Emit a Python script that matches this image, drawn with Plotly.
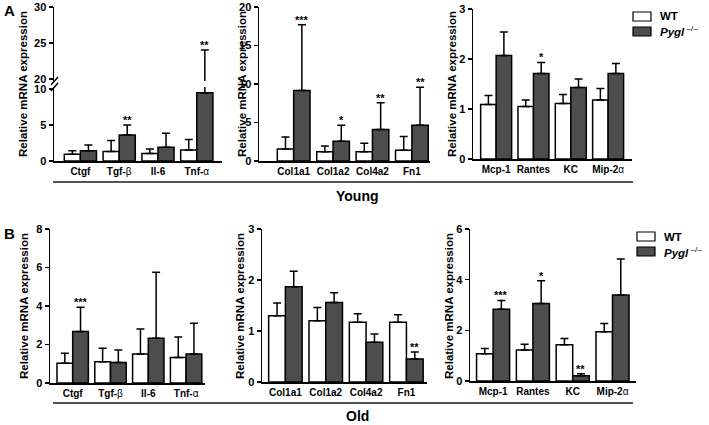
import plotly.graph_objects as go

# ---------------- data ----------------
growth_cats = ["Ctgf", "Tgf-β", "Il-6", "Tnf-α"]
growth_ticks = ["<b>Ctgf</b>", "<b>Tgf-</b>β", "<b>Il-6</b>", "<b>Tnf-</b>α"]
matrix_cats = ["Col1a1", "Col1a2", "Col4a2", "Fn1"]
matrix_ticks = ["<b>Col1a1</b>", "<b>Col1a2</b>", "<b>Col4a2</b>", "<b>Fn1</b>"]
chemo_cats = ["Mcp-1", "Rantes", "KC", "Mip-2α"]
chemo_ticks = ["<b>Mcp-1</b>", "<b>Rantes</b>", "<b>KC</b>", "<b>Mip-2</b>α"]

# Young (A)
young_growth_wt = [0.95, 1.33, 1.05, 1.52]
young_growth_wt_err = [0.48, 1.53, 0.62, 1.48]
young_growth_ko = [1.43, 3.62, 1.90, 9.50]
young_growth_ko_err = [0.81, 1.38, 1.96, 14.5]
young_growth_sig = ["", "**", "", "**"]

young_matrix_wt = [1.56, 1.21, 1.21, 1.39]
young_matrix_wt_err = [1.56, 0.74, 1.09, 1.78]
young_matrix_ko = [9.15, 2.56, 4.08, 4.64]
young_matrix_ko_err = [8.55, 2.08, 3.47, 4.95]
young_matrix_sig = ["***", "*", "**", "**"]

young_chemo_wt = [1.09, 1.05, 1.11, 1.18]
young_chemo_wt_err = [0.18, 0.13, 0.18, 0.23]
young_chemo_ko = [2.07, 1.71, 1.43, 1.71]
young_chemo_ko_err = [0.47, 0.22, 0.17, 0.20]
young_chemo_sig = ["", "*", "", ""]

# Old (B)
old_growth_wt = [1.02, 1.10, 1.51, 1.33]
old_growth_wt_err = [0.52, 0.71, 1.30, 1.06]
old_growth_ko = [2.68, 1.07, 2.32, 1.51]
old_growth_ko_err = [1.25, 0.65, 3.43, 1.59]
old_growth_sig = ["***", "", "", ""]

old_matrix_wt = [1.30, 1.20, 1.17, 1.17]
old_matrix_wt_err = [0.25, 0.26, 0.17, 0.15]
old_matrix_ko = [1.87, 1.56, 0.78, 0.45]
old_matrix_ko_err = [0.30, 0.19, 0.16, 0.14]
old_matrix_sig = ["", "", "", "**"]

old_chemo_wt = [1.08, 1.22, 1.43, 1.94]
old_chemo_wt_err = [0.20, 0.23, 0.25, 0.33]
old_chemo_ko = [2.83, 3.06, 0.21, 3.39]
old_chemo_ko_err = [0.35, 0.90, 0.08, 1.43]
old_chemo_sig = ["***", "*", "**", ""]

# ---------------- layout helpers ----------------
W, H = 709, 425
FONT = "Liberation Sans, Arial, sans-serif"
KO_COLOR = "#4d4d4d"
BARGAP = 0.17


def px(x):
    return x / W


def py(y):
    return 1 - y / H


fig = go.Figure()
annotations = []
shapes = []


def add_bars(xa, ya, cats, wt, wte, ko, koe):
    common = dict(xaxis=xa, yaxis=ya, showlegend=False, hoverinfo="skip",
                  marker_line=dict(color="black", width=1.5))
    eb = dict(type="data", symmetric=False, color="black", thickness=1.5, width=4)
    fig.add_trace(go.Bar(x=cats, y=wt, marker_color="white",
                         error_y=dict(array=wte, arrayminus=[0] * len(wt), **eb), **common))
    fig.add_trace(go.Bar(x=cats, y=ko, marker_color=KO_COLOR,
                         error_y=dict(array=koe, arrayminus=[0] * len(ko), **eb), **common))


def add_stars(xa, ya, ko, koe, sig):
    off = (1 - BARGAP) / 4
    for i, s in enumerate(sig):
        if s:
            annotations.append(dict(x=i + off, y=ko[i] + koe[i], xref=xa, yref=ya,
                                    text="<b>" + s + "</b>", showarrow=False,
                                    yanchor="bottom", yshift=-3,
                                    font=dict(family=FONT, size=11, color="black")))


def xaxis_cfg(dom, rng, cats, ticks, anchor):
    return dict(domain=[px(dom[0]), px(dom[1])], range=rng, anchor=anchor,
                type="category", categoryorder="array", categoryarray=cats,
                tickmode="array", tickvals=cats, ticktext=ticks, automargin=False,
                showline=True, linecolor="black", linewidth=1.5, ticks="",
                showgrid=False, zeroline=False,
                tickfont=dict(family=FONT, size=10, color="black"))


def yaxis_cfg(top, bot, rng, tickvals, anchor):
    return dict(domain=[py(bot), py(top)], range=rng, anchor=anchor, automargin=False,
                tickmode="array", tickvals=tickvals,
                ticktext=["<b>%g</b>" % v for v in tickvals],
                showline=True, linecolor="black", linewidth=1.5,
                ticks="outside", ticklen=4, tickwidth=1.5, tickcolor="black",
                showgrid=False, zeroline=False,
                tickfont=dict(family=FONT, size=11, color="black"))


def ytitle(xc, top, bot):
    annotations.append(dict(x=px(xc), y=py((top + bot) / 2), xref="paper", yref="paper",
                            text="<b>Relative mRNA expression</b>", textangle=-90,
                            showarrow=False, xanchor="center", yanchor="middle",
                            font=dict(family=FONT, size=11.5, color="black")))


# ---------------- panels ----------------
# A1 with broken axis
add_bars("x", "y", growth_cats, young_growth_wt, young_growth_wt_err,
         young_growth_ko, young_growth_ko_err)
add_bars("x", "y7", growth_cats, young_growth_wt, young_growth_wt_err,
         young_growth_ko, young_growth_ko_err)
sig_low = [s if young_growth_ko[i] + young_growth_ko_err[i] < 10 else "" for i, s in enumerate(young_growth_sig)]
sig_up = [s if young_growth_ko[i] + young_growth_ko_err[i] >= 10 else "" for i, s in enumerate(young_growth_sig)]
add_stars("x", "y", young_growth_ko, young_growth_ko_err, sig_low)
add_stars("x", "y7", young_growth_ko, young_growth_ko_err, sig_up)

add_bars("x2", "y2", matrix_cats, young_matrix_wt, young_matrix_wt_err,
         young_matrix_ko, young_matrix_ko_err)
add_stars("x2", "y2", young_matrix_ko, young_matrix_ko_err, young_matrix_sig)
add_bars("x3", "y3", chemo_cats, young_chemo_wt, young_chemo_wt_err,
         young_chemo_ko, young_chemo_ko_err)
add_stars("x3", "y3", young_chemo_ko, young_chemo_ko_err, young_chemo_sig)

add_bars("x4", "y4", growth_cats, old_growth_wt, old_growth_wt_err,
         old_growth_ko, old_growth_ko_err)
add_stars("x4", "y4", old_growth_ko, old_growth_ko_err, old_growth_sig)
add_bars("x5", "y5", matrix_cats, old_matrix_wt, old_matrix_wt_err,
         old_matrix_ko, old_matrix_ko_err)
add_stars("x5", "y5", old_matrix_ko, old_matrix_ko_err, old_matrix_sig)
add_bars("x6", "y6", chemo_cats, old_chemo_wt, old_chemo_wt_err,
         old_chemo_ko, old_chemo_ko_err)
add_stars("x6", "y6", old_chemo_ko, old_chemo_ko_err, old_chemo_sig)

layout = dict(
    template="none",
    width=W, height=H, margin=dict(l=0, r=0, t=0, b=0, pad=0),
    paper_bgcolor="white", plot_bgcolor="white",
    barmode="group", bargap=BARGAP, bargroupgap=0, showlegend=False,
    font=dict(family=FONT, color="black"),
    xaxis=xaxis_cfg((54, 222), [-0.68, 3.65], growth_cats, growth_ticks, "y"),
    yaxis=yaxis_cfg(87, 161, [0, 10.3], [0, 5, 10], "x"),
    yaxis7=yaxis_cfg(7, 81, [19.7, 30], [20, 25, 30], "x"),
    xaxis2=xaxis_cfg((259, 430), [-0.88, 3.46], matrix_cats, matrix_ticks, "y2"),
    yaxis2=yaxis_cfg(7, 161, [0, 20], [0, 5, 10, 15, 20], "x2"),
    xaxis3=xaxis_cfg((473, 632), [-0.62, 3.64], chemo_cats, chemo_ticks, "y3"),
    yaxis3=yaxis_cfg(9, 159, [0, 3], [0, 1, 2, 3], "x3"),
    xaxis4=xaxis_cfg((50, 205), [-0.6, 3.5], growth_cats, growth_ticks, "y4"),
    yaxis4=yaxis_cfg(229, 383, [0, 8], [0, 2, 4, 6, 8], "x4"),
    xaxis5=xaxis_cfg((262, 427), [-0.58, 3.51], matrix_cats, matrix_ticks, "y5"),
    yaxis5=yaxis_cfg(229, 382, [0, 3], [0, 1, 2, 3], "x5"),
    xaxis6=xaxis_cfg((470, 636), [-0.58, 3.59], chemo_cats, chemo_ticks, "y6"),
    yaxis6=yaxis_cfg(229, 381, [0, 6], [0, 2, 4, 6], "x6"),
)

# y-axis titles
ytitle(23, 7, 161)
ytitle(242, 7, 161)
ytitle(452, 7, 161)
ytitle(24, 229, 383)
ytitle(240, 229, 383)
ytitle(449, 229, 383)

# axis break marks on A1
for yref, yanchor in (("y domain", 1), ("y7 domain", 0)):
    shapes.append(dict(type="line", xref="x domain", yref=yref,
                       xsizemode="pixel", xanchor=0, x0=-3, x1=4,
                       ysizemode="pixel", yanchor=yanchor, y0=-4, y1=4,
                       line=dict(color="black", width=1.5)))

# group lines & labels
for yline, ylab, lab in ((182, 196, "Young"), (403, 416, "Old")):
    shapes.append(dict(type="line", xref="paper", yref="paper",
                       x0=px(53), x1=px(633), y0=py(yline), y1=py(yline),
                       line=dict(color="#555555", width=2)))
    annotations.append(dict(x=px(357), y=py(ylab), xref="paper", yref="paper",
                            text="<b>%s</b>" % lab, showarrow=False,
                            yanchor="middle",
                            font=dict(family=FONT, size=14, color="black")))

# panel letters
for lab, yy in (("A", 10), ("B", 233)):
    annotations.append(dict(x=px(2), y=py(yy), xref="paper", yref="paper",
                            text="<b>%s</b>" % lab, showarrow=False,
                            xanchor="left", yanchor="middle",
                            font=dict(family=FONT, size=15, color="black")))

# legends
for (bx, by1, by2) in ((633, 16.5, 31.5), (637, 236.5, 251.5)):
    for yc, color, text in ((by1, "white", "<b>WT</b>"),
                            (by2, KO_COLOR, "<b><i>Pygl</i></b><sup> –/–</sup>")):
        shapes.append(dict(type="rect", xref="paper", yref="paper",
                           x0=px(bx), x1=px(bx + 18), y0=py(yc - 4.5), y1=py(yc + 4.5),
                           fillcolor=color, line=dict(color="black", width=1.2)))
        annotations.append(dict(x=px(bx + 25), y=py(yc), xref="paper", yref="paper",
                                text=text, showarrow=False, xanchor="left", yanchor="middle",
                                font=dict(family=FONT, size=11.5, color="black")))

layout["annotations"] = annotations
layout["shapes"] = shapes
fig.update_layout(**layout)
fig.write_html("out.html", config={"displayModeBar": False, "staticPlot": True},
               post_script="document.body.style.margin='0';document.body.style.overflow='hidden';")
